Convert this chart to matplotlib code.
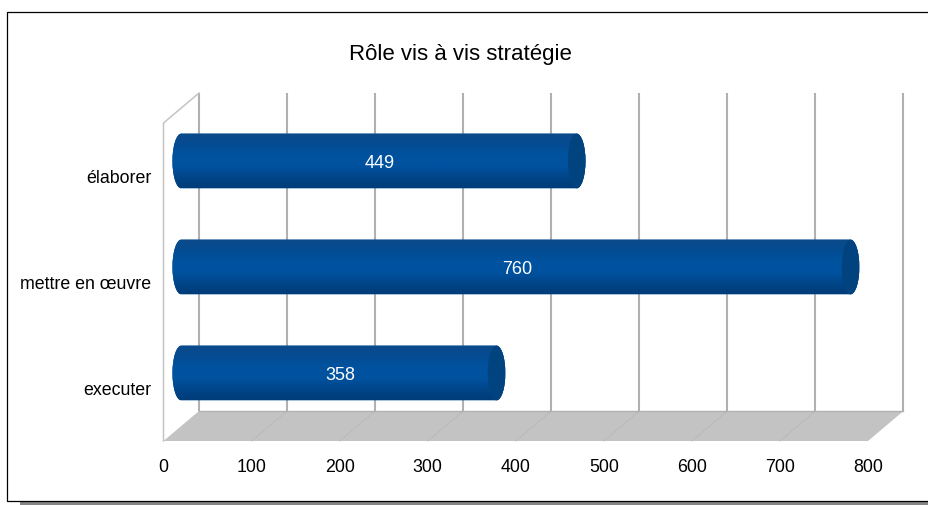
import numpy as np
import matplotlib
matplotlib.use("Agg")
import matplotlib.pyplot as plt
from matplotlib.colors import LinearSegmentedColormap
from matplotlib.patches import PathPatch, Ellipse, Polygon, Rectangle
from matplotlib.path import Path
from matplotlib.transforms import Affine2D

title = "Rôle vis à vis stratégie"
categories = ["executer", "mettre en œuvre", "élaborer"]
values = [358, 760, 449]
xticks = [0, 100, 200, 300, 400, 500, 600, 700, 800]

W, H = 929, 506
plt.rcParams["font.family"] = ["Liberation Sans", "DejaVu Sans"]

fig = plt.figure(figsize=(W / 100, H / 100), dpi=100)

# frame and its shadow, in figure pixels
bg = fig.add_axes([0, 0, 1, 1])
bg.set_xlim(0, W)
bg.set_ylim(H, 0)
bg.axis("off")
bg.add_patch(Rectangle((20, 502), W - 20, 4, fc="#858585", ec="none"))
bg.plot([W, 7.5, 7.5, W], [12.5, 12.5, 502, 502], color="black", lw=0.9)
bg.text(460, 54, title, fontsize=16, ha="center", va="center", color="black")

# axes = the front plane of the 3d box
left, right, top, bottom = 163.5, 868, 124, 442
ax = fig.add_axes([left / W, 1 - bottom / H, (right - left) / W, (bottom - top) / H])
ax.set_xlim(0, 800)
ax.set_ylim(-0.5, 2.5)
ax.axis("off")

dx, dy = 35.5, 30
back = ax.transData + Affine2D().translate(dx, dy)
mid = ax.transData + Affine2D().translate(dx / 2, dy / 2)

# floor
pts = ax.transData.transform([[0, -0.5], [800, -0.5]])
poly = np.vstack([pts, pts[::-1] + [dx, dy]])
ax.add_patch(Polygon(poly, closed=True, fc="#c3c3c3", ec="none",
                     transform=Affine2D(), clip_on=False, zorder=1))
for t in xticks[1:-1]:
    p = ax.transData.transform((t, -0.5))
    ax.plot([p[0], p[0] + dx], [p[1], p[1] + dy], color="#b8b8b8", lw=0.6,
            transform=Affine2D(), clip_on=False, zorder=1.5)

# back wall grid
for t in xticks:
    ax.plot([t, t], [-0.5, 2.5], color="#b0b0b0", lw=1.5, transform=back,
            clip_on=False, zorder=2, solid_capstyle="butt")
ax.plot([0, 800], [-0.5, -0.5], color="#b0b0b0", lw=1.0, transform=back,
        clip_on=False, zorder=2)

# side wall edges
p0 = ax.transData.transform((0, -0.5))
p1 = ax.transData.transform((0, 2.5))
ax.plot([p0[0], p1[0], p1[0] + dx], [p0[1], p1[1], p1[1] + dy], color="#c4c4c4",
        lw=1.1, transform=Affine2D(), clip_on=False, zorder=2)

# cylinders
cmap = LinearSegmentedColormap.from_list(
    "bar", ["#003c78", "#00468a", "#00529f", "#00529f", "#044c92", "#0c4a8a"])
grad = np.linspace(0, 1, 64).reshape(-1, 1)
bar_h = 0.258
cap = 10.0
k = 0.5523
for i, v in enumerate(values):
    y0, y1 = i - bar_h, i + bar_h
    verts = [(0, y1),
             (-cap * k, y1), (-cap, i + bar_h * k), (-cap, i),
             (-cap, i - bar_h * k), (-cap * k, y0), (0, y0),
             (v, y0),
             (v + cap * k, y0), (v + cap, i - bar_h * k), (v + cap, i),
             (v + cap, i + bar_h * k), (v + cap * k, y1), (v, y1),
             (0, y1)]
    codes = [Path.MOVETO,
             Path.CURVE4, Path.CURVE4, Path.CURVE4,
             Path.CURVE4, Path.CURVE4, Path.CURVE4,
             Path.LINETO,
             Path.CURVE4, Path.CURVE4, Path.CURVE4,
             Path.CURVE4, Path.CURVE4, Path.CURVE4,
             Path.CLOSEPOLY]
    body = PathPatch(Path(verts, codes), fc="#00529f", ec="none", transform=mid,
                     clip_on=False, zorder=3)
    ax.add_patch(body)
    im = ax.imshow(grad, cmap=cmap, aspect="auto", origin="lower",
                   extent=(-cap, v + cap, y0, y1), zorder=3.1, interpolation="bilinear")
    im.set_transform(mid)
    im.set_clip_path(body)
    ax.add_patch(Ellipse((v, i), 2 * cap, 2 * bar_h, fc="#00437f", ec="none",
                         transform=mid, clip_on=False, zorder=3.2))
    ax.annotate(str(v), (v / 2, i), xycoords=mid, xytext=(1, -2), textcoords="offset pixels",
                color="white", fontsize=13, ha="center", va="center", zorder=4,
                annotation_clip=False)
ax.set_xlim(0, 800)
ax.set_ylim(-0.5, 2.5)

# tick labels
for t in xticks:
    ax.annotate(str(t), (t, -0.5), xytext=(0, -26), textcoords="offset pixels",
                fontsize=12.8, ha="center", va="center", color="black", annotation_clip=False)
for i, c in enumerate(categories):
    ax.annotate(c, (0, i), xytext=(-12, -2), textcoords="offset pixels",
                fontsize=12.8, ha="right", va="center", color="black", annotation_clip=False)

fig.savefig("out.png", dpi=100)
